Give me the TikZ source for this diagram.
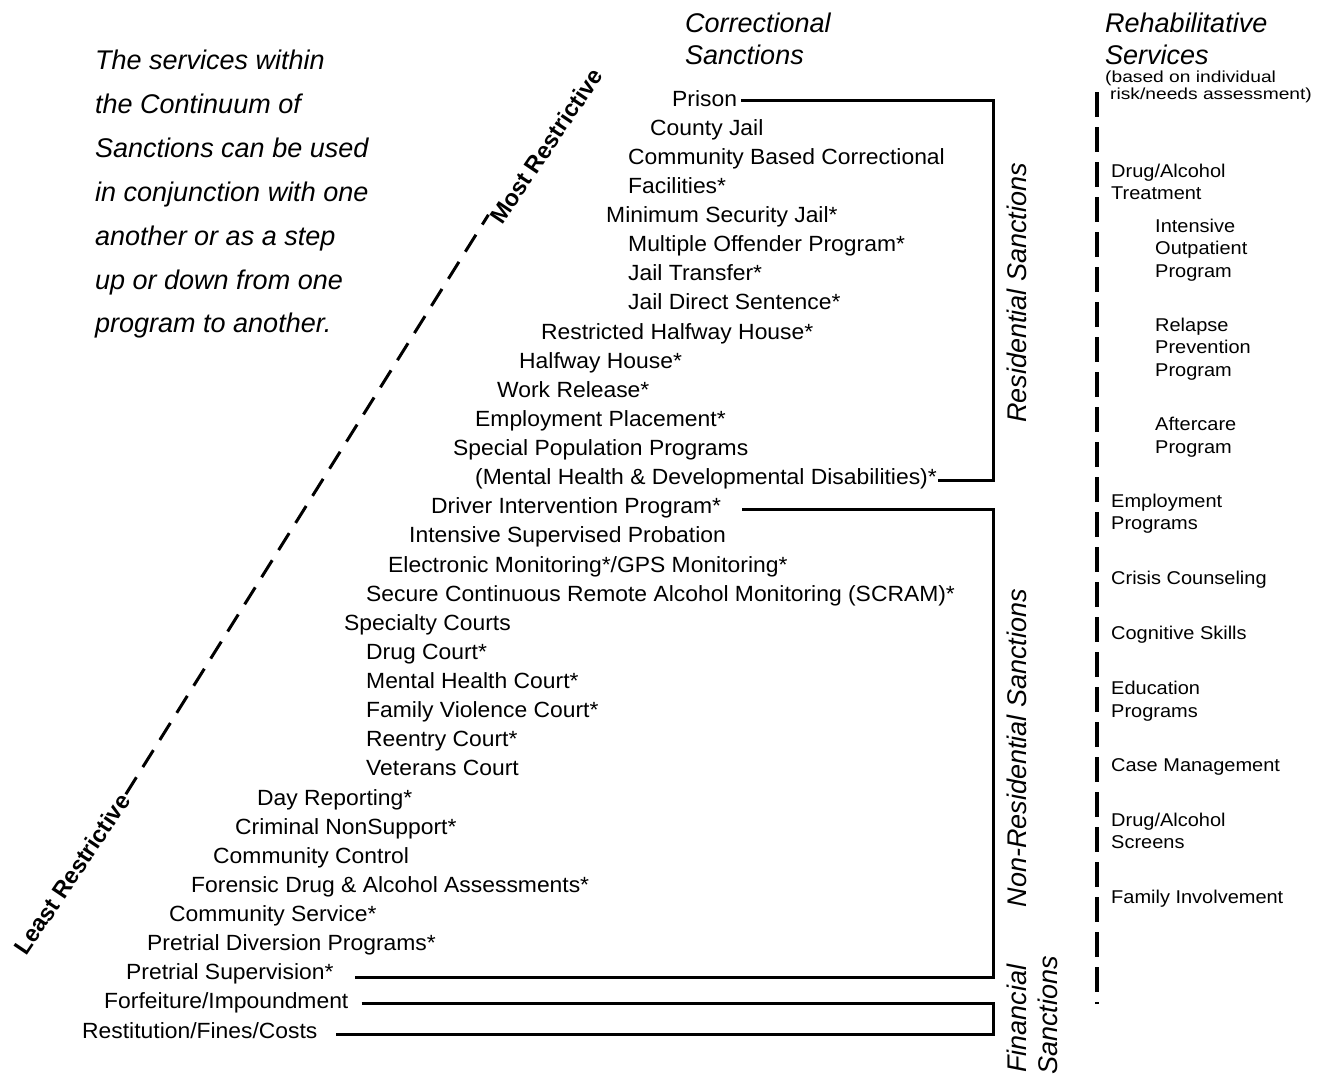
\documentclass[tikz,border=0pt]{standalone}
\usepackage{fontspec}
\setmainfont{Liberation Sans}
\newfontfamily\listf[FakeStretch=1.04]{Liberation Sans}
\newfontfamily\rightf[FakeStretch=1.08]{Liberation Sans}
\newfontfamily\smallf[FakeStretch=1.2]{Liberation Sans}
\begin{document}
\begin{tikzpicture}[x=1pt,y=-1pt,
  item/.style={anchor=base west,inner sep=0pt,font=\listf\fontsize{22}{26}\selectfont},
  ritem/.style={anchor=base west,inner sep=0pt,font=\rightf\fontsize{18.5}{22}\selectfont},
  sitem/.style={anchor=base west,inner sep=0pt,font=\smallf\fontsize{16}{18}\selectfont},
  ital/.style={anchor=base west,inner sep=0pt,font=\itshape\fontsize{27}{32}\selectfont},
  vlabel/.style={rotate=90,inner sep=0pt,font=\itshape\fontsize{27}{32}\selectfont},
  dlabel/.style={rotate=56,inner sep=2pt,font=\bfseries\fontsize{23.5}{28}\selectfont},
  bracket/.style={line width=3pt,line join=miter},
  dashline/.style={line width=3pt,dash pattern=on 20pt off 12pt},
  vdash/.style={line width=3.5pt,dash pattern=on 25pt off 10pt}]
\useasboundingbox (0,0) rectangle (1325,1076);

% left paragraph
\foreach \i/\y/\t in {1/69/{The services within},2/113/{the Continuum of},3/157/{Sanctions can be used},
  4/201/{in conjunction with one},5/245/{another or as a step},6/289/{up or down from one},7/332/{program to another.}}
  \node[ital] (p\i) at (95,\y) {\t};

% headings
\node[ital] (hc1) at (685,32) {Correctional};
\node[ital] (hc2) at (685,64) {Sanctions};
\node[ital] (hr1) at (1105,32) {Rehabilitative};
\node[ital] (hr2) at (1105,64) {Services};
\node[sitem] (hr3) at (1105,82) {(based on individual};
\node[sitem] (hr4) at (1110,99) {risk/needs assessment)};

% main list
\foreach \i/\x/\t in {
 1/672/{Prison},
 2/650/{County Jail},
 3/628/{Community Based Correctional},
 4/628/{Facilities*},
 5/606/{Minimum Security Jail*},
 6/628/{Multiple Offender Program*},
 7/628/{Jail Transfer*},
 8/628/{Jail Direct Sentence*},
 9/541/{Restricted Halfway House*},
 10/519/{Halfway House*},
 11/497/{Work Release*},
 12/475/{Employment Placement*},
 13/453/{Special Population Programs},
 14/475/{(Mental Health \& Developmental Disabilities)*},
 15/431/{Driver Intervention Program*},
 16/409/{Intensive Supervised Probation},
 17/388/{Electronic Monitoring*/GPS Monitoring*},
 18/366/{Secure Continuous Remote Alcohol Monitoring (SCRAM)*},
 19/344/{Specialty Courts},
 20/366/{Drug Court*},
 21/366/{Mental Health Court*},
 22/366/{Family Violence Court*},
 23/366/{Reentry Court*},
 24/366/{Veterans Court},
 25/257/{Day Reporting*},
 26/235/{Criminal NonSupport*},
 27/213/{Community Control},
 28/191/{Forensic Drug \& Alcohol Assessments*},
 29/169/{Community Service*},
 30/147/{Pretrial Diversion Programs*},
 31/126/{Pretrial Supervision*},
 32/104/{Forfeiture/Impoundment},
 33/82/{Restitution/Fines/Costs}}
 \node[item] (l\i) at (\x,{106+29.125*(\i-1)}) {\t};

% brackets
\coordinate (rx) at (993,0);
\coordinate (a1) at ([xshift=4pt,yshift=6pt]l1.base east);
\coordinate (a2) at ([xshift=1pt,yshift=4pt]l14.base east);
\coordinate (b1) at ([xshift=21pt,yshift=4pt]l15.base east);
\coordinate (b2) at ([xshift=21pt,yshift=2pt]l31.base east);
\coordinate (c1) at ([xshift=13pt,yshift=5pt]l32.base east);
\coordinate (c2) at ([xshift=18pt,yshift=4pt]l33.base east);
\draw[bracket] (a1) -- (a1 -| rx) -- (a2 -| rx) -- (a2);
\draw[bracket] (b1) -- (b1 -| rx) -- (b2 -| rx) -- (b2);
\draw[bracket] (c1) -- (c1 -| rx) -- (c2 -| rx) -- (c2);

% bracket labels
\node[vlabel] (res) at (1017,293) {Residential Sanctions};
\node[vlabel] (nonres) at (1017,748) {Non-Residential Sanctions};
\node[vlabel,anchor=west] (fin1) at (1017,1073) {Financial};
\node[vlabel,anchor=west] (fin2) at (1048,1075) {Sanctions};

% restriction axis
\node[dlabel] (least) at (72,874) {Least Restrictive};
\node[dlabel] (most) at (546,146) {Most Restrictive};
\coordinate (mend) at ([shift={(-236:10pt)}]most.west);
\draw[dashline] (least.east) -- (mend);

% rehabilitative services column
\coordinate (vt) at (1097,92);
\coordinate (vb) at (1097,1004);
\draw[vdash] (vt) -- (vb);

\foreach \i/\x/\y/\t in {
 1/1111/177/{Drug/Alcohol},
 2/1111/199/{Treatment},
 3/1155/232/{Intensive},
 4/1155/254/{Outpatient},
 5/1155/277/{Program},
 6/1155/331/{Relapse},
 7/1155/353/{Prevention},
 8/1155/376/{Program},
 9/1155/430/{Aftercare},
 10/1155/453/{Program},
 11/1111/507/{Employment},
 12/1111/529/{Programs},
 13/1111/584/{Crisis Counseling},
 14/1111/639/{Cognitive Skills},
 15/1111/694/{Education},
 16/1111/717/{Programs},
 17/1111/771/{Case Management},
 18/1111/826/{Drug/Alcohol},
 19/1111/848/{Screens},
 20/1111/903/{Family Involvement}}
 \node[ritem] (r\i) at (\x,\y) {\t};
\end{tikzpicture}
\end{document}
